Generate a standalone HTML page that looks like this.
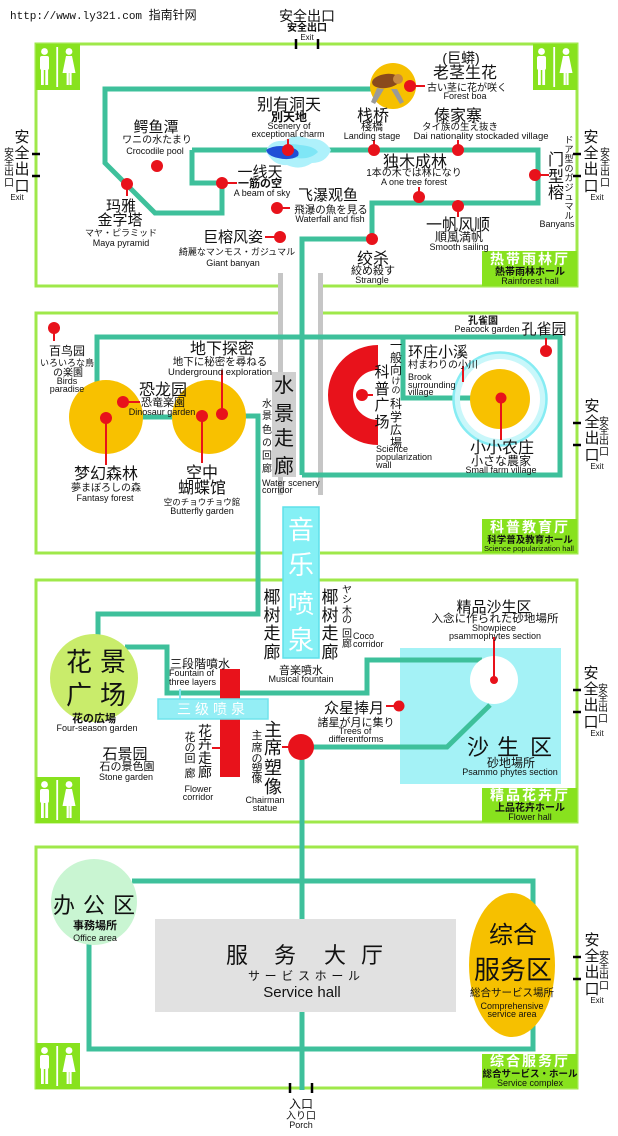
<!DOCTYPE html>
<html><head><meta charset="utf-8">
<style>
html,body{margin:0;padding:0;background:#fff;}
svg{display:block;}
text{font-family:"Liberation Sans","Noto Sans CJK SC","Noto Sans CJK JP",sans-serif;fill:#111;}
.c{text-anchor:middle;}
.w{fill:#fff;font-weight:bold;}
.b{font-weight:bold;}
</style></head><body>
<svg xmlns="http://www.w3.org/2000/svg" width="618" height="1136" viewBox="0 0 618 1136">
<defs>
<g id="wc">
 <rect x="0" y="0" width="44" height="46" fill="#88e21e"/>
 <circle cx="8.5" cy="7.5" r="3.4" fill="#fff"/>
 <rect x="4" y="12" width="9" height="14" rx="2" fill="#fff"/>
 <rect x="5" y="25" width="2.8" height="16" fill="#fff"/>
 <rect x="9.3" y="25" width="2.8" height="16" fill="#fff"/>
 <rect x="20.3" y="3" width="1.8" height="40" fill="#fff"/>
 <circle cx="33" cy="7.5" r="3.4" fill="#fff"/>
 <path d="M30 12 H36 L39.5 29 H26.5 Z" fill="#fff"/>
 <rect x="30.6" y="28" width="2.2" height="13" fill="#fff"/>
 <rect x="33.4" y="28" width="2.2" height="13" fill="#fff"/>
</g>
</defs>

<!-- header -->
<text x="10" y="19" font-size="11" style="font-family:'Liberation Mono','Noto Sans CJK SC',monospace">http://www.ly321.com <tspan style="font-family:'Noto Sans CJK SC',sans-serif" font-size="12">指南针网</tspan></text>

<!-- section borders -->
<g fill="none" stroke="#9fe84a" stroke-width="3">
 <path d="M278 286 H36 V44 H577 V286 H323"/>
 <path d="M278 313 H36 V553 H283 M320 553 H577 V313 H323"/>
 <path d="M283 580 H36 V822 H577 V580 H319"/>
 <rect x="36" y="847" width="541" height="241"/>
</g>

<!-- gray corridor bars -->
<rect x="278" y="273" width="5" height="222" fill="#c6c6c6"/>
<rect x="318" y="273" width="5" height="222" fill="#c6c6c6"/>

<!-- sand box (under lines) -->
<rect x="400" y="648" width="161" height="136" fill="#a4f2f6"/>

<!-- teal paths -->
<g fill="none" stroke="#3ec09b" stroke-width="5">
 <path d="M192 150 V183 H222 V213 H155 L105 163 V89 H378"/>
 <path d="M192 150 H538 V203 H372 V239 H302 V475"/>
 <path d="M302 337 H560 V475 H302"/>
 <path d="M97 382 V337 H302"/>
 <path d="M403 337 V398 H472"/>
 <path d="M140 417 H175"/>
 <path d="M244 416 H258 V614 H98 V636"/>
 <path d="M125 647 H167 V693 H367 V660 H482"/>
 <path d="M302 747 H447 L490 705"/>
 <path d="M302 747 V1090"/>
 <path d="M132 881 H533 V1049 H89 V944"/>
</g>

<!-- water scenery gray box -->
<rect x="272" y="372" width="24" height="105" fill="#cfcfcf"/>

<!-- restrooms -->
<use href="#wc" transform="translate(36,44)"/>
<use href="#wc" transform="translate(533,44)"/>
<use href="#wc" transform="translate(36,777)"/>
<use href="#wc" transform="translate(36,1043)"/>

<!-- hall label boxes -->
<rect x="482" y="251" width="95" height="35" fill="#88e21e"/>
<rect x="482" y="519" width="95" height="34" fill="#88e21e"/>
<rect x="482" y="788" width="95" height="34" fill="#88e21e"/>
<rect x="482" y="1054" width="95" height="34" fill="#88e21e"/>

<!-- snake -->
<circle cx="393" cy="86" r="23" fill="#f6c000"/>
<path d="M377 88 L371 102 L375 104 L384 89 Z" fill="#9a9a9a"/>
<path d="M397 89 L404 102 L400 104 L391 89 Z" fill="#9a9a9a"/>
<ellipse cx="386" cy="81" rx="14" ry="7" fill="#8a4a1c" transform="rotate(-8 386 81)"/>
<ellipse cx="398" cy="79" rx="5" ry="5" fill="#c98a40"/>

<!-- water splash -->
<path d="M266 151 Q270 140 284 141 Q295 133 309 139 Q323 137 331 150 Q326 163 312 163 Q300 171 287 165 Q273 166 266 151 Z" fill="#aef1fb"/>
<path d="M276 150 Q285 142 300 145 Q314 146 318 152 Q310 160 296 158 Q282 160 276 150 Z" fill="#7fe6f6"/>
<path d="M266 150 Q275 144 290 147 Q301 150 298 156 Q290 161 278 158 Q268 156 266 150 Z" fill="#1f4fd6"/>

<!-- section 2 shapes -->
<circle cx="106" cy="417" r="37" fill="#f8c100"/>
<circle cx="209" cy="417" r="37" fill="#f8c100"/>
<path d="M378 345 A50 50 0 0 0 378 445 L378 420 A25 25 0 0 1 378 370 Z" fill="#e8121b"/>
<circle cx="500" cy="399" r="43" fill="none" stroke="#c9f7fa" stroke-width="6"/>
<circle cx="500" cy="399" r="46.5" fill="none" stroke="#86ecf3" stroke-width="2.5"/>
<circle cx="500" cy="399" r="30" fill="#f8c100"/>

<!-- music fountain -->
<rect x="283" y="507" width="36" height="151" fill="#84f0f5" stroke="#5fe0ea" stroke-width="1.5"/>

<!-- section 3 shapes -->
<circle cx="94" cy="678" r="44" fill="#c9ec6b"/>
<circle cx="494" cy="680" r="24" fill="#fff"/>
<rect x="220" y="669" width="20" height="108" fill="#e8121b"/>
<line x1="180" y1="689" x2="180" y2="699" stroke="#7fe6f0" stroke-width="2"/>
<rect x="158" y="699" width="110" height="20" fill="#94eef5" stroke="#70e3ec" stroke-width="1.5"/>
<circle cx="301" cy="747" r="13" fill="#e8121b"/>

<!-- section 4 shapes -->
<circle cx="94" cy="902" r="43" fill="#c9f5d2"/>
<rect x="155" y="919" width="301" height="93" fill="#e1e1e1"/>
<ellipse cx="512" cy="965" rx="43" ry="72" fill="#f6c000"/>

<!-- red dots and stems -->
<g stroke="#e8121b" stroke-width="2">
 <line x1="127" y1="184" x2="127" y2="196"/>
 <line x1="222" y1="183" x2="237" y2="183"/>
 <line x1="288" y1="150" x2="288" y2="139"/>
 <line x1="277" y1="208" x2="290" y2="208"/>
 <line x1="265" y1="237" x2="280" y2="237"/>
 <line x1="410" y1="86" x2="425" y2="86"/>
 <line x1="374" y1="150" x2="374" y2="140"/>
 <line x1="458" y1="150" x2="458" y2="140"/>
 <line x1="419" y1="197" x2="419" y2="187"/>
 <line x1="458" y1="206" x2="458" y2="217"/>
 <line x1="535" y1="175" x2="549" y2="175"/>
 <line x1="54" y1="328" x2="54" y2="341"/>
 <line x1="106" y1="418" x2="106" y2="465"/>
 <line x1="123" y1="402" x2="140" y2="402"/>
 <line x1="202" y1="416" x2="202" y2="463"/>
 <line x1="222" y1="414" x2="222" y2="370"/>
 <line x1="362" y1="395" x2="373" y2="395"/>
 <line x1="501" y1="398" x2="501" y2="440"/>
 <line x1="546" y1="351" x2="546" y2="338"/>
 <line x1="463" y1="366" x2="463" y2="382"/>
 <line x1="494" y1="680" x2="494" y2="637"/>
 <line x1="386" y1="706" x2="399" y2="706"/>
 <line x1="282" y1="747" x2="292" y2="747"/>
 <line x1="212" y1="748" x2="220" y2="748"/>
</g>
<g fill="#e8121b">
 <circle cx="157" cy="166" r="6"/>
 <circle cx="127" cy="184" r="6"/>
 <circle cx="222" cy="183" r="6"/>
 <circle cx="288" cy="150" r="6"/>
 <circle cx="277" cy="208" r="6"/>
 <circle cx="280" cy="237" r="6"/>
 <circle cx="410" cy="86" r="6"/>
 <circle cx="374" cy="150" r="6"/>
 <circle cx="458" cy="150" r="6"/>
 <circle cx="419" cy="197" r="6"/>
 <circle cx="458" cy="206" r="6"/>
 <circle cx="535" cy="175" r="6"/>
 <circle cx="372" cy="239" r="6"/>
 <circle cx="54" cy="328" r="6"/>
 <circle cx="106" cy="418" r="6"/>
 <circle cx="123" cy="402" r="6"/>
 <circle cx="202" cy="416" r="6"/>
 <circle cx="222" cy="414" r="6"/>
 <circle cx="362" cy="395" r="6"/>
 <circle cx="501" cy="398" r="5.5"/>
 <circle cx="546" cy="351" r="6"/>
 <circle cx="494" cy="680" r="4"/>
 <circle cx="399" cy="706" r="5.5"/>
</g>

<!-- exit ticks -->
<g stroke="#000" stroke-width="2.5">
 <line x1="296" y1="39" x2="296" y2="49"/><line x1="318" y1="39" x2="318" y2="49"/>
 <line x1="290" y1="1083" x2="290" y2="1093"/><line x1="312" y1="1083" x2="312" y2="1093"/>
 <line x1="32" y1="154" x2="40" y2="154"/><line x1="32" y1="176" x2="40" y2="176"/>
 <line x1="573" y1="154" x2="581" y2="154"/><line x1="573" y1="176" x2="581" y2="176"/>
 <line x1="573" y1="423" x2="581" y2="423"/><line x1="573" y1="445" x2="581" y2="445"/>
 <line x1="573" y1="690" x2="581" y2="690"/><line x1="573" y1="712" x2="581" y2="712"/>
 <line x1="573" y1="957" x2="581" y2="957"/><line x1="573" y1="979" x2="581" y2="979"/>
</g>

<!-- exit labels -->
<g class="c">
 <text x="307" y="21" font-size="14">安全出口</text>
 <text x="307" y="31" font-size="10" class="b">安全出口</text>
 <text x="307" y="40" font-size="8">Exit</text>
 <text x="301" y="1108" font-size="12">入口</text>
 <text x="301" y="1119" font-size="10">入り口</text>
 <text x="301" y="1128" font-size="9">Porch</text>
</g>
<g transform="translate(0,154)" class="c">
 <text font-size="15"><tspan x="22" y="-12">安</tspan><tspan x="22" y="4">全</tspan><tspan x="22" y="20">出</tspan><tspan x="22" y="37">口</tspan></text>
 <text font-size="10"><tspan x="9" y="2">安</tspan><tspan x="9" y="11">全</tspan><tspan x="9" y="21">出</tspan><tspan x="9" y="32">口</tspan></text>
 <text x="17" y="46" font-size="8">Exit</text>
</g>
<g transform="translate(0,154)" class="c">
 <text font-size="15"><tspan x="591" y="-12">安</tspan><tspan x="591" y="4">全</tspan><tspan x="591" y="20">出</tspan><tspan x="591" y="37">口</tspan></text>
 <text font-size="10"><tspan x="605" y="2">安</tspan><tspan x="605" y="11">全</tspan><tspan x="605" y="21">出</tspan><tspan x="605" y="32">口</tspan></text>
 <text x="597" y="46" font-size="8">Exit</text>
</g>
<g transform="translate(0,423)" class="c">
 <text font-size="15"><tspan x="592" y="-12">安</tspan><tspan x="592" y="4">全</tspan><tspan x="592" y="20">出</tspan><tspan x="592" y="37">口</tspan></text>
 <text font-size="10"><tspan x="604" y="2">安</tspan><tspan x="604" y="11">全</tspan><tspan x="604" y="21">出</tspan><tspan x="604" y="32">口</tspan></text>
 <text x="597" y="46" font-size="8">Exit</text>
</g>
<g transform="translate(0,690)" class="c">
 <text font-size="15"><tspan x="591" y="-12">安</tspan><tspan x="591" y="4">全</tspan><tspan x="591" y="20">出</tspan><tspan x="591" y="37">口</tspan></text>
 <text font-size="10"><tspan x="603" y="2">安</tspan><tspan x="603" y="11">全</tspan><tspan x="603" y="21">出</tspan><tspan x="603" y="32">口</tspan></text>
 <text x="597" y="46" font-size="8">Exit</text>
</g>
<g transform="translate(0,957)" class="c">
 <text font-size="15"><tspan x="592" y="-12">安</tspan><tspan x="592" y="4">全</tspan><tspan x="592" y="20">出</tspan><tspan x="592" y="37">口</tspan></text>
 <text font-size="10"><tspan x="604" y="2">安</tspan><tspan x="604" y="11">全</tspan><tspan x="604" y="21">出</tspan><tspan x="604" y="32">口</tspan></text>
 <text x="597" y="46" font-size="8">Exit</text>
</g>

<!-- section 1 labels -->
<g class="c">
 <text x="156" y="132" font-size="15">鳄鱼潭</text>
 <text x="157" y="143" font-size="10">ワニの水たまり</text>
 <text x="155" y="154" font-size="9">Crocodile pool</text>
 <text x="121" y="211" font-size="15">玛雅</text>
 <text x="120" y="225" font-size="15">金字塔</text>
 <text x="121" y="236" font-size="9">マヤ・ピラミッド</text>
 <text x="121" y="246" font-size="9">Maya pyramid</text>
 <text x="260" y="177" font-size="15">一线天</text>
 <text x="260" y="187" font-size="11" class="b">一筋の空</text>
 <text x="262" y="196" font-size="9">A beam of sky</text>
 <text x="289" y="110" font-size="16">别有洞天</text>
 <text x="289" y="121" font-size="12" class="b">別天地</text>
 <text x="289" y="129" font-size="9">Scenery of</text>
 <text x="288" y="137" font-size="9">exceptional charm</text>
 <text x="328" y="200" font-size="15">飞瀑观鱼</text>
 <text x="331" y="213" font-size="10.5">飛瀑の魚を見る</text>
 <text x="330" y="222" font-size="9">Waterfall and fish</text>
 <text x="233" y="242" font-size="15">巨榕风姿</text>
 <text x="237" y="255" font-size="9">綺麗なマンモス・ガジュマル</text>
 <text x="233" y="266" font-size="9">Giant banyan</text>
 <text x="461" y="63" font-size="14">(巨蟒)</text>
 <text x="465" y="78" font-size="16">老茎生花</text>
 <text x="467" y="91" font-size="10">古い茎に花が咲く</text>
 <text x="465" y="99" font-size="9">Forest boa</text>
 <text x="373" y="121" font-size="16">栈桥</text>
 <text x="372" y="130" font-size="11">棧橋</text>
 <text x="372" y="139" font-size="9">Landing stage</text>
 <text x="458" y="121" font-size="16">傣家寨</text>
 <text x="460" y="130" font-size="9.5">タイ族の生え抜き</text>
 <text x="481" y="139" font-size="9" textLength="135" lengthAdjust="spacingAndGlyphs">Dai nationality stockaded village</text>
 <text x="415" y="167" font-size="16">独木成林</text>
 <text x="414" y="176" font-size="10">1本の木では林になり</text>
 <text x="414" y="185" font-size="9">A one tree forest</text>
 <text x="458" y="230" font-size="16">一帆风顺</text>
 <text x="459" y="241" font-size="12">順風満帆</text>
 <text x="459" y="250" font-size="9">Smooth sailing</text>
 <text font-size="16"><tspan x="556" y="165">门</tspan><tspan x="556" y="182">型</tspan><tspan x="556" y="198">榕</tspan></text>
 <text font-size="9"><tspan x="569" y="143">ド</tspan><tspan x="569" y="152.5">ア</tspan><tspan x="569" y="162">型</tspan><tspan x="569" y="171.5">の</tspan><tspan x="569" y="181">ガ</tspan><tspan x="569" y="190.5">ジ</tspan><tspan x="569" y="200">ュ</tspan><tspan x="569" y="209.5">マ</tspan><tspan x="569" y="219">ル</tspan></text>
 <text x="557" y="227" font-size="9">Banyans</text>
 <text x="373" y="264" font-size="16">绞杀</text>
 <text x="373" y="274" font-size="11">絞め殺す</text>
 <text x="372" y="283" font-size="9">Strangle</text>
 <text x="530" y="264" font-size="14" class="w" letter-spacing="2">热带雨林厅</text>
 <text x="530" y="275" font-size="10" class="b">熱帯雨林ホール</text>
 <text x="530" y="284" font-size="9">Rainforest hall</text>
</g>

<!-- section 2 labels -->
<g class="c">
 <text x="67" y="355" font-size="12">百鸟园</text>
 <text x="67" y="366" font-size="9">いろいろな鳥</text>
 <text x="68" y="376" font-size="10">の楽園</text>
 <text x="67" y="384" font-size="9">Birds</text>
 <text x="67" y="392" font-size="9">paradise</text>
 <text x="163" y="395" font-size="16">恐龙园</text>
 <text x="163" y="406" font-size="11">恐竜楽園</text>
 <text x="162" y="415" font-size="9">Dinosaur garden</text>
 <text x="222" y="354" font-size="16">地下探密</text>
 <text x="220" y="365" font-size="10.5">地下に秘密を尋ねる</text>
 <text x="220" y="375" font-size="9" textLength="104" lengthAdjust="spacingAndGlyphs">Underground exploration</text>
 <text x="106" y="479" font-size="16">梦幻森林</text>
 <text x="106" y="491" font-size="10">夢まぼろしの森</text>
 <text x="105" y="501" font-size="9">Fantasy forest</text>
 <text x="202" y="478" font-size="16">空中</text>
 <text x="202" y="493" font-size="16">蝴蝶馆</text>
 <text x="202" y="505" font-size="8.5">空のチョウチョウ館</text>
 <text x="202" y="514" font-size="9">Butterfly garden</text>
 <text font-size="20"><tspan x="284" y="392">水</tspan><tspan x="284" y="420">景</tspan><tspan x="284" y="445">走</tspan><tspan x="284" y="473">廊</tspan></text>
 <text font-size="10"><tspan x="267" y="407">水</tspan><tspan x="267" y="419">景</tspan><tspan x="267" y="433">色</tspan><tspan x="267" y="446">の</tspan><tspan x="267" y="459">回</tspan><tspan x="267" y="472">廊</tspan></text>
 <text font-size="15"><tspan x="382" y="377">科</tspan><tspan x="382" y="394">普</tspan><tspan x="382" y="410">广</tspan><tspan x="382" y="427">场</tspan></text>
 <text font-size="12"><tspan x="396" y="349">一</tspan><tspan x="396" y="362">般</tspan><tspan x="396" y="374">向</tspan><tspan x="396" y="384" font-size="9">け</tspan><tspan x="396" y="393" font-size="9">の</tspan><tspan x="396" y="408">科</tspan><tspan x="396" y="421">学</tspan><tspan x="396" y="434">広</tspan><tspan x="396" y="447">場</tspan></text>
 <text x="502" y="453" font-size="16">小小农庄</text>
 <text x="501" y="465" font-size="12">小さな農家</text>
 <text x="501" y="473" font-size="9">Small farm village</text>
 <text x="483" y="324" font-size="10" class="b">孔雀園</text>
 <text x="487" y="332" font-size="9">Peacock garden</text>
 <text x="544" y="334" font-size="15">孔雀园</text>
 <text x="530" y="532" font-size="14" class="w" letter-spacing="2">科普教育厅</text>
 <text x="530" y="543" font-size="9.5" class="b">科学普及教育ホール</text>
 <text x="529" y="551" font-size="7.5" textLength="90" lengthAdjust="spacingAndGlyphs">Science popularization hall</text>
</g>
<text x="262" y="486" font-size="9">Water scenery</text>
<text x="262" y="493" font-size="9">corridor</text>
<text x="376" y="452" font-size="9">Science</text>
<text x="376" y="460" font-size="9">popularization</text>
<text x="376" y="468" font-size="9">wall</text>
<text x="408" y="357" font-size="15">环庄小溪</text>
<text x="408" y="368" font-size="10">村まわりの小川</text>
<text x="408" y="380" font-size="9">Brook</text>
<text x="408" y="388" font-size="9">surrounding</text>
<text x="408" y="395" font-size="9">village</text>

<!-- section 3 labels -->
<g class="c">
 <text x="301" font-size="26" class="w" style="font-weight:normal"><tspan x="301" y="539">音</tspan><tspan x="301" y="574">乐</tspan><tspan x="301" y="613">喷</tspan><tspan x="301" y="649">泉</tspan></text>
 <text font-size="26"><tspan x="79" y="671">花</tspan><tspan x="113" y="671">景</tspan><tspan x="79" y="704">广</tspan><tspan x="113" y="704">场</tspan></text>
 <text x="94" y="722" font-size="11" class="b">花の広場</text>
 <text x="97" y="731" font-size="9">Four-season garden</text>
 <text x="125" y="759" font-size="15">石景园</text>
 <text x="127" y="770" font-size="11">石の景色園</text>
 <text x="126" y="780" font-size="9">Stone garden</text>
 <text x="200" y="668" font-size="12">三段階噴水</text>
 <text x="213" y="714" font-size="14" class="w" style="font-weight:normal" letter-spacing="4">三级喷泉</text>
 <text font-size="14"><tspan x="205" y="736">花</tspan><tspan x="205" y="749">卉</tspan><tspan x="205" y="763">走</tspan><tspan x="205" y="777">廊</tspan></text>
 <text font-size="11"><tspan x="190" y="741">花</tspan><tspan x="190" y="751">の</tspan><tspan x="190" y="762">回</tspan><tspan x="190" y="777">廊</tspan></text>
 <text x="198" y="792" font-size="9">Flower</text>
 <text x="198" y="800" font-size="9">corridor</text>
 <text font-size="18"><tspan x="273" y="736">主</tspan><tspan x="273" y="754">席</tspan><tspan x="273" y="774">塑</tspan><tspan x="273" y="793">像</tspan></text>
 <text font-size="11"><tspan x="257" y="739">主</tspan><tspan x="257" y="751">席</tspan><tspan x="257" y="762">の</tspan><tspan x="257" y="772">塑</tspan><tspan x="257" y="782">像</tspan></text>
 <text x="265" y="803" font-size="9">Chairman</text>
 <text x="265" y="811" font-size="9">statue</text>
 <text font-size="17"><tspan x="272" y="603">椰</tspan><tspan x="272" y="621">树</tspan><tspan x="272" y="639">走</tspan><tspan x="272" y="658">廊</tspan></text>
 <text font-size="17"><tspan x="330" y="603">椰</tspan><tspan x="330" y="621">树</tspan><tspan x="330" y="639">走</tspan><tspan x="330" y="658">廊</tspan></text>
 <text font-size="10"><tspan x="347" y="593">ヤ</tspan><tspan x="347" y="603">シ</tspan><tspan x="347" y="614">木</tspan><tspan x="347" y="623">の</tspan><tspan x="347" y="637">回</tspan><tspan x="347" y="647">廊</tspan></text>
 <text x="301" y="674" font-size="11">音楽噴水</text>
 <text x="301" y="682" font-size="9">Musical fountain</text>
 <text x="494" y="612" font-size="15">精品沙生区</text>
 <text x="495" y="622" font-size="11" textLength="127" lengthAdjust="spacingAndGlyphs">入念に作られた砂地場所</text>
 <text x="494" y="631" font-size="9">Showpiece</text>
 <text x="495" y="639" font-size="9">psammophytes section</text>
 <text x="354" y="713" font-size="15">众星捧月</text>
 <text x="356" y="726" font-size="11">諸星が月に集り</text>
 <text x="355" y="734" font-size="9">Trees of</text>
 <text x="356" y="742" font-size="9">differentforms</text>
 <text font-size="22"><tspan x="478" y="755">沙</tspan><tspan x="508" y="755">生</tspan><tspan x="541" y="755">区</tspan></text>
 <text x="511" y="767" font-size="12">砂地場所</text>
 <text x="510" y="775" font-size="9">Psammo phytes section</text>
 <text x="530" y="800" font-size="14" class="w" letter-spacing="2">精品花卉厅</text>
 <text x="530" y="811" font-size="10" class="b">上品花卉ホール</text>
 <text x="530" y="820" font-size="9">Flower hall</text>
</g>
<text x="169" y="676" font-size="9">Fountain of</text>
<text x="169" y="685" font-size="9">three layers</text>
<text x="353" y="639" font-size="9">Coco</text>
<text x="353" y="647" font-size="9">corridor</text>

<!-- section 4 labels -->
<g class="c">
 <text font-size="22"><tspan x="64" y="913">办</tspan><tspan x="94" y="913">公</tspan><tspan x="124" y="913">区</tspan></text>
 <text x="95" y="929" font-size="11" class="b">事務場所</text>
 <text x="95" y="941" font-size="9">Office area</text>
 <text font-size="22"><tspan x="237" y="963">服</tspan><tspan x="285" y="963">务</tspan><tspan x="335" y="963">大</tspan><tspan x="372" y="963">厅</tspan></text>
 <text x="304" y="980" font-size="12" textLength="112" lengthAdjust="spacing">サービスホール</text>
 <text x="302" y="997" font-size="15">Service hall</text>
 <text x="513" y="943" font-size="24">综合</text>
 <text x="513" y="979" font-size="26">服务区</text>
 <text x="512" y="996" font-size="10.5">総合サービス場所</text>
 <text x="512" y="1009" font-size="9">Comprehensive</text>
 <text x="512" y="1017" font-size="9">service area</text>
 <text x="530" y="1066" font-size="14" class="w" letter-spacing="2">综合服务厅</text>
 <text x="530" y="1077" font-size="9.5" class="b">総合サービス・ホール</text>
 <text x="530" y="1086" font-size="9">Service complex</text>
</g>
</svg>
</body></html>
